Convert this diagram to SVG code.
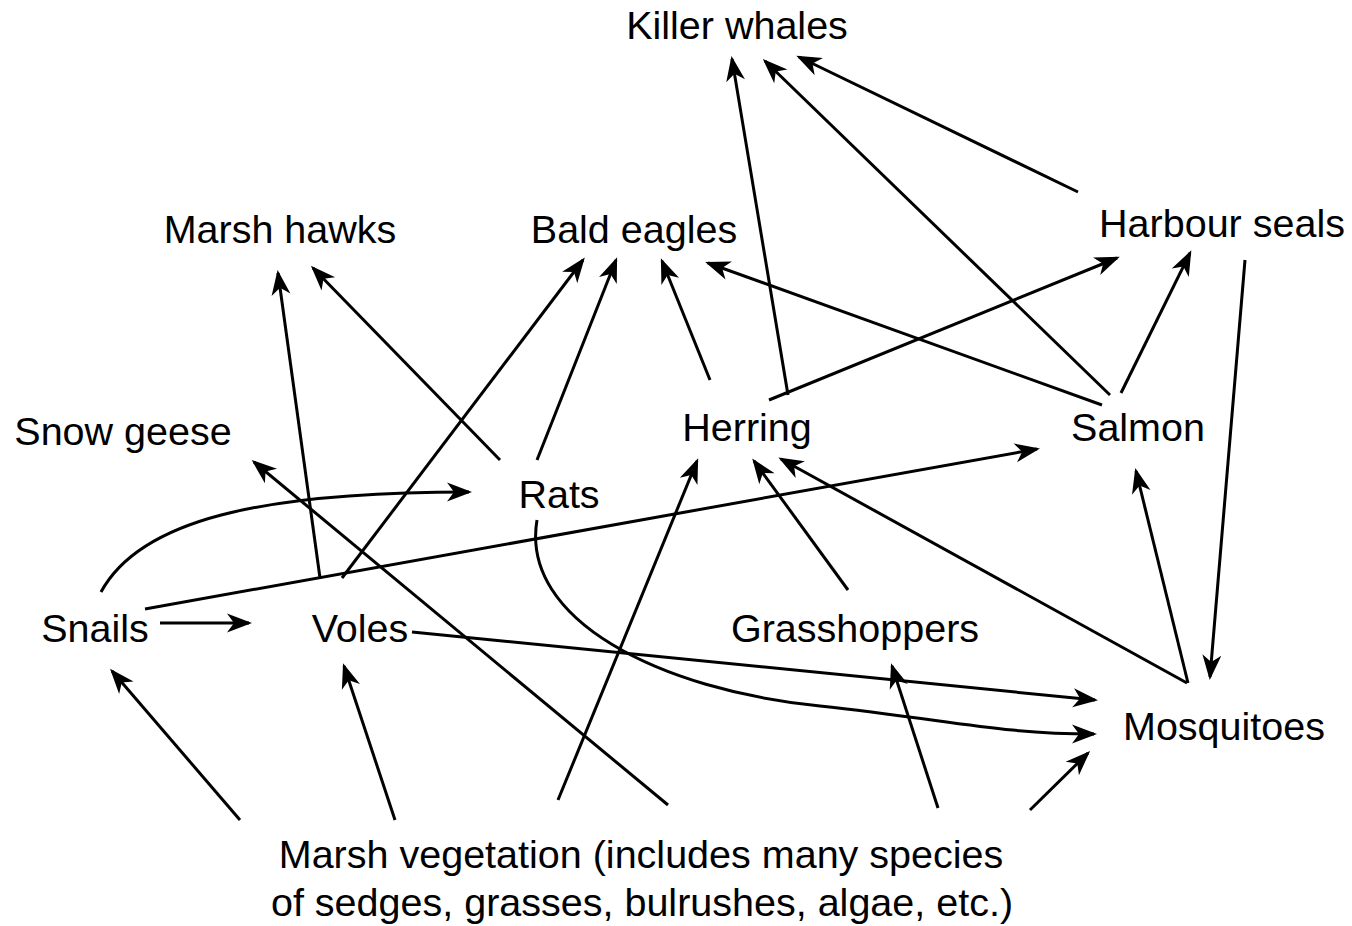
<svg xmlns="http://www.w3.org/2000/svg" width="1352" height="926" viewBox="0 0 1352 926">
<defs>
<marker id="ah" markerUnits="userSpaceOnUse" markerWidth="32" markerHeight="24" viewBox="-28 -12 32 24" refX="-3" refY="0" orient="auto">
<path d="M0,0 L-25,-9.5 L-18,0 L-25,9.5 Z" fill="#000"/>
</marker>
<style>
.lbl{font-family:"Liberation Sans",Helvetica,Arial,sans-serif;font-size:39.5px;fill:#000;text-anchor:middle}
.e{fill:none;stroke:#000;stroke-width:3;marker-end:url(#ah)}
.n{fill:none;stroke:#000;stroke-width:3}
</style>
</defs>
<rect width="1352" height="926" fill="#fff"/>
<g id="connectors">
<line class="e" x1="788" y1="395" x2="732" y2="59"/>
<line class="e" x1="1110" y1="395" x2="765" y2="61"/>
<line class="e" x1="1078" y1="192" x2="799" y2="57"/>
<line class="e" x1="710" y1="380" x2="662" y2="261"/>
<line class="e" x1="1102" y1="405" x2="708" y2="263"/>
<line class="e" x1="769" y1="400" x2="1117" y2="258"/>
<line class="e" x1="1121" y1="393" x2="1190" y2="253"/>
<line class="e" x1="1245" y1="260" x2="1210" y2="677"/>
<line class="e" x1="500" y1="460" x2="313" y2="268"/>
<line class="e" x1="320" y1="578" x2="278" y2="273"/>
<line class="e" x1="342" y1="578" x2="583" y2="260"/>
<line class="e" x1="537" y1="460" x2="616" y2="260"/>
<path class="e" d="M101,592 C140,520 260,492 469,492"/>
<line class="e" x1="145" y1="609" x2="1037" y2="449"/>
<line class="e" x1="160" y1="623" x2="249" y2="623"/>
<line class="e" x1="668" y1="805" x2="254" y2="462"/>
<path class="e" d="M537,520 C520,620 660,690 820,706 C950,720 1000,734 1094,734"/>
<line class="e" x1="412" y1="632" x2="1095" y2="700"/>
<line class="e" x1="1187" y1="683" x2="781" y2="459"/>
<line class="e" x1="1188" y1="683" x2="1136" y2="471"/>
<line class="e" x1="848" y1="590" x2="754" y2="461"/>
<line class="e" x1="558" y1="800" x2="697" y2="461"/>
<line class="e" x1="938" y1="808" x2="892" y2="666"/>
<line class="e" x1="1030" y1="810" x2="1088" y2="753"/>
<line class="e" x1="240" y1="820" x2="112" y2="671"/>
<line class="e" x1="395" y1="820" x2="344" y2="666"/>
</g>
<g id="killer-whales"><text class="lbl" x="737" y="39">Killer whales</text></g>
<g id="marsh-hawks"><text class="lbl" x="280" y="243">Marsh hawks</text></g>
<g id="bald-eagles"><text class="lbl" x="634" y="243">Bald eagles</text></g>
<g id="harbour-seals"><text class="lbl" x="1222" y="237">Harbour seals</text></g>
<g id="snow-geese"><text class="lbl" x="123" y="445">Snow geese</text></g>
<g id="herring"><text class="lbl" x="747" y="441">Herring</text></g>
<g id="salmon"><text class="lbl" x="1138" y="441">Salmon</text></g>
<g id="rats"><text class="lbl" x="559" y="508">Rats</text></g>
<g id="snails"><text class="lbl" x="95" y="642">Snails</text></g>
<g id="voles"><text class="lbl" x="360" y="642">Voles</text></g>
<g id="grasshoppers"><text class="lbl" x="855" y="642">Grasshoppers</text></g>
<g id="mosquitoes"><text class="lbl" x="1224" y="740">Mosquitoes</text></g>
<g id="marsh-vegetation">
<text class="lbl" x="641" y="868">Marsh vegetation (includes many species</text>
<text class="lbl" x="642" y="916">of sedges, grasses, bulrushes, algae, etc.)</text>
</g>
</svg>
